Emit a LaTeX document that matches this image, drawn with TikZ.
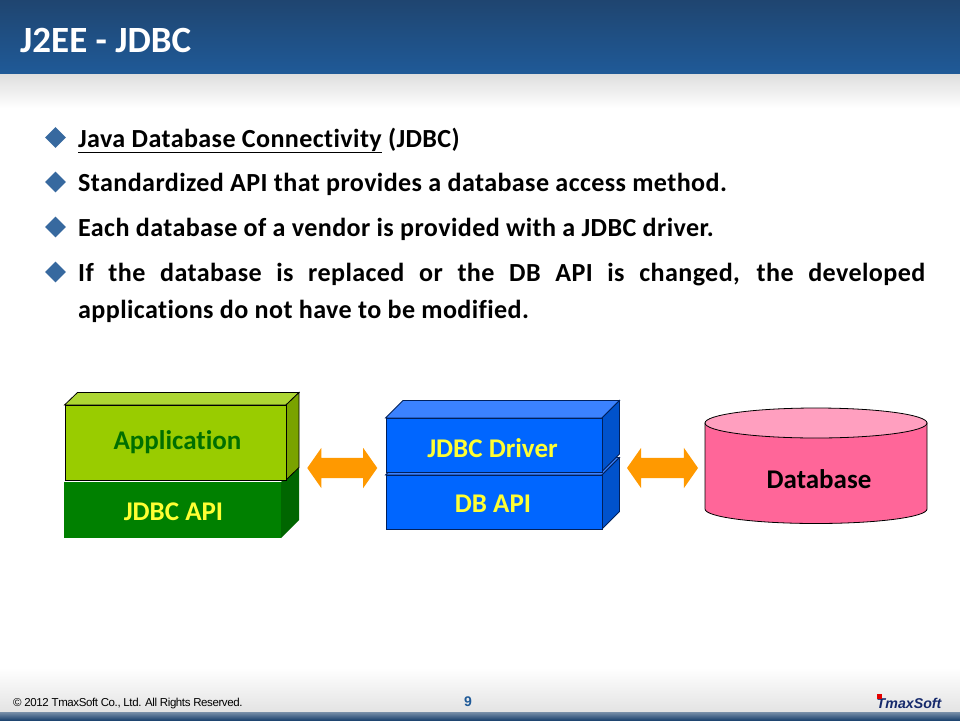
\documentclass[tikz,border=0pt]{standalone}
\usepackage{fontspec}
\setmainfont[Ligatures=NoCommon]{Carlito}
\newfontfamily\bodyfont[LetterSpace=1.5,Ligatures=NoCommon]{Carlito}
\newfontfamily\footfont[LetterSpace=-3.5]{Liberation Sans}
\newfontfamily\arialfont{Liberation Sans}
\usetikzlibrary{shapes.geometric,shapes.arrows}
\definecolor{hdrtop}{HTML}{1F4570}
\definecolor{hdrbot}{HTML}{1F5A98}
\definecolor{bullet}{HTML}{37699F}
\definecolor{limef}{HTML}{99CC00}
\definecolor{limet}{HTML}{ADD633}
\definecolor{limes}{HTML}{7AA300}
\definecolor{greenf}{HTML}{008000}
\definecolor{greens}{HTML}{006600}
\definecolor{bluef}{HTML}{0066FF}
\definecolor{bluet}{HTML}{3B82FF}
\definecolor{blues}{HTML}{0052CC}
\definecolor{navyline}{HTML}{00205C}
\definecolor{pinkf}{HTML}{FF6699}
\definecolor{pinkt}{HTML}{FF9FBF}
\definecolor{orangea}{HTML}{FF9900}
\definecolor{darkgreentext}{HTML}{006F00}
\definecolor{yellowtext}{HTML}{FFFF33}
\definecolor{logonavy}{HTML}{15296B}
\tikzset{
  x=1pt,y=-1pt,
  bodyline/.style={anchor=base west,inner sep=0pt,text=black,font=\fontsize{26.1}{30}\selectfont\bodyfont\bfseries},
  bulletmark/.style={diamond,fill=bullet,inner sep=0pt,minimum width=21pt,minimum height=21pt},
  boxlabel/.style={anchor=base,font=\fontsize{27}{32}\selectfont\bfseries,inner sep=0pt},
  link/.style={double arrow,fill=orangea,inner xsep=0pt,inner ysep=10pt,double arrow head extend=10pt,double arrow tip angle=110},
  facebox/.style={inner sep=0pt,anchor=north west},
}
\begin{document}
\begin{tikzpicture}[line join=miter]
\useasboundingbox (0,0) rectangle (960,720);
% page bands
\fill[white] (0,0) rectangle (960,720);
\shade[top color=hdrtop,bottom color=hdrbot] (0,0) rectangle (960,74);
\shade[top color=black!13,bottom color=white] (0,74) rectangle (960,108);
\shade[top color=white,bottom color=black!11] (0,668) rectangle (960,712);
\shade[top color=hdrtop!60!white,bottom color=hdrtop] (0,712) rectangle (960,720);
% title
\node[anchor=base west,inner sep=0pt,text=white,font=\fontsize{37}{42}\selectfont\bfseries] (title) at (20,52) {J2EE - JDBC};
% bullets
\node[bulletmark] (b1) at (55.5,137.5) {};
\node[bulletmark] (b2) at (55.5,182) {};
\node[bulletmark] (b3) at (55.5,227) {};
\node[bulletmark] (b4) at (55.5,272) {};
\node[bodyline] (t1) at (78,147) {\underline{Java Database Connectivity} (JDBC)};
\node[bodyline] (t2) at (78,191) {Standardized API that provides a database access method.};
\node[bodyline] (t3) at (78,236) {Each database of a vendor is provided with a JDBC driver.};
\node[bodyline] (t4) at (78,281) {\makebox[847pt][s]{If the database is replaced or the DB API is changed, the developed}};
\node[bodyline] (t5) at (78,318) {applications do not have to be modified.};
% left stack
\fill[greens] (281,482) -- (299,468) -- (299,520) -- (281,538) -- cycle;
\node[facebox,fill=greenf,minimum width=217pt,minimum height=56pt] (apibox) at (64,482) {};
\node[boxlabel,text=yellowtext] (jdbcapi) at (173.5,520.5) {JDBC API};
\draw[black,line width=0.8pt,fill=limet] (64.5,405) -- (77.5,392.5) -- (299,392.5) -- (286,405) -- cycle;
\draw[black,line width=0.8pt,fill=limes] (286,405) -- (299,392.5) -- (299,467.5) -- (286,480) -- cycle;
\node[facebox,draw=black,line width=0.8pt,fill=limef,minimum width=221.5pt,minimum height=75pt] (appbox) at (64.5,405) {};
\node[boxlabel,text=darkgreentext] (app) at (177.5,449) {Application};
% middle stack
\draw[navyline,line width=0.8pt,fill=bluet] (385.5,475) -- (403,457.5) -- (619.5,457.5) -- (602,475) -- cycle;
\draw[navyline,line width=0.8pt,fill=blues] (602,475) -- (619.5,457.5) -- (619.5,511.5) -- (602,529) -- cycle;
\node[facebox,draw=navyline,line width=0.8pt,fill=bluef,minimum width=216.5pt,minimum height=54pt] (dbapibox) at (385.5,475) {};
\node[boxlabel,text=yellowtext] (dbapi) at (493,512) {DB API};
\draw[navyline,line width=0.8pt,fill=bluet] (385.5,418) -- (403,400.5) -- (619.5,400.5) -- (602,418) -- cycle;
\draw[navyline,line width=0.8pt,fill=blues] (602,418) -- (619.5,400.5) -- (619.5,454) -- (602,471.5) -- cycle;
\node[facebox,draw=navyline,line width=0.8pt,fill=bluef,minimum width=216.5pt,minimum height=53.5pt] (driverbox) at (385.5,418) {};
\node[boxlabel,text=yellowtext] (driver) at (492.5,457) {JDBC Driver};
% database
\coordinate (dbtop) at (816,423);
\draw[black,line width=0.8pt,fill=pinkf] (705,423) -- (705,509) arc[start angle=180,end angle=0,x radius=111,y radius=14.5] -- (927,423) -- cycle;
\draw[black,line width=0.8pt,fill=pinkt] (dbtop) ellipse[x radius=111,y radius=15];
\node[boxlabel,text=black] (db) at (819,488) {Database};
% links
\node[link,minimum height=70pt] (l1) at (342.25,468) {};
\node[link,minimum height=71pt] (l2) at (662.5,468) {};
% footer
\node[anchor=base west,inner sep=0pt,text=black,font=\fontsize{11.5}{13}\selectfont\footfont] (copy) at (13,706) {© 2012 TmaxSoft Co., Ltd. All Rights Reserved.};
\node[anchor=base,inner sep=0pt,text=hdrbot,font=\fontsize{14}{16}\selectfont\arialfont\bfseries] (page) at (468,706) {9};
\node[anchor=base west,inner sep=0pt,text=logonavy,font=\fontsize{14.2}{18}\selectfont\arialfont\bfseries\itshape] (logo) at (876.5,708) {TmaxSoft};
\fill[red!90!black] (876.5,694) rectangle (881.5,699);
\end{tikzpicture}
\end{document}
